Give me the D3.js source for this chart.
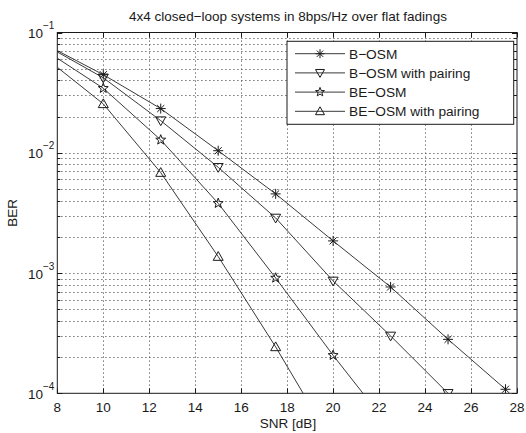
<!DOCTYPE html>
<html>
<head>
<meta charset="utf-8">
<script src="https://cdn.jsdelivr.net/npm/d3@7/dist/d3.min.js"></script>
<style>
  html, body { margin: 0; padding: 0; background: #fff; }
  svg { display: block; font-family: "Liberation Sans", Arial, Helvetica, sans-serif; }
</style>
</head>
<body>
<svg id="chart" width="526" height="433"></svg>
<script>
// ---- data ----
const snr = [7.5, 10, 12.5, 15, 17.5, 20, 22.5, 25, 27.5];
const seriesNames = ["B\u2212OSM", "B\u2212OSM with pairing", "BE\u2212OSM", "BE\u2212OSM with pairing"];
const markerTypes = ["asterisk", "triangleDown", "pentagram", "triangleUp"];
const berBOSM        = [0.0793, 0.0446, 0.0233, 0.0104, 0.00455, 0.00185, 0.000766, 0.000281, 0.000108];
const berBOSMPair    = [0.0780, 0.0420, 0.0185, 0.00757, 0.00287, 0.00086, 0.000300, 0.000100, 0.000034];
const berBEOSM       = [0.0705, 0.0344, 0.0128, 0.00380, 0.00091, 0.000207, 0.000051, null, null];
const berBEOSMPair   = [0.0612, 0.0255, 0.00684, 0.00137, 0.000243, 0.000038, null, null, null];
const xTicks = [8, 10, 12, 14, 16, 18, 20, 22, 24, 26, 28];
const yMajorExponents = [-4, -3, -2, -1];
const titleText = "4x4 closed\u2212loop systems in 8bps/Hz over flat fadings";
const xLabel = "SNR [dB]";
const yLabel = "BER";

const allSeries = [berBOSM, berBOSMPair, berBEOSM, berBEOSMPair];

// ---- layout ----
const svg = d3.select("#chart");
const L = 57.3, T = 32.5, R = 517, B = 393.3;
const x = d3.scaleLinear().domain([8, 28]).range([L, R]);
const y = d3.scaleLog().domain([1e-4, 1e-1]).range([B, T]);
const ink = "#1a1a1a";
const lineCol = "#3a3a3a";

svg.append("defs").append("clipPath").attr("id", "plotclip")
  .append("rect").attr("x", L).attr("y", T).attr("width", R - L).attr("height", B - T);

// grid
const grid = svg.append("g").attr("stroke", "#555").attr("stroke-width", 1)
  .attr("stroke-dasharray", "1.2,2.8").attr("fill", "none");
xTicks.slice(1, -1).forEach(t => {
  grid.append("line").attr("x1", Math.round(x(t)) + 0.5).attr("x2", Math.round(x(t)) + 0.5)
    .attr("y1", T).attr("y2", B);
});
const yGridVals = [];
yMajorExponents.forEach(e => {
  for (let m = 1; m <= 9; m++) {
    const v = m * Math.pow(10, e);
    if (v > 1e-4 && v < 1e-1) yGridVals.push(v);
  }
});
yGridVals.forEach(v => {
  grid.append("line").attr("x1", L).attr("x2", R)
    .attr("y1", Math.round(y(v)) + 0.5).attr("y2", Math.round(y(v)) + 0.5);
});

// frame
svg.append("rect").attr("x", L).attr("y", T).attr("width", R - L).attr("height", B - T)
  .attr("fill", "none").attr("stroke", ink).attr("stroke-width", 1);

// ticks (inward, all sides)
const tk = svg.append("g").attr("stroke", ink).attr("stroke-width", 1);
xTicks.forEach(t => {
  const xx = Math.round(x(t)) + 0.5;
  tk.append("line").attr("x1", xx).attr("x2", xx).attr("y1", B).attr("y2", B - 5);
  tk.append("line").attr("x1", xx).attr("x2", xx).attr("y1", T).attr("y2", T + 5);
});
yMajorExponents.forEach(e => {
  const yy = Math.round(y(Math.pow(10, e))) + 0.5;
  tk.append("line").attr("x1", L).attr("x2", L + 5).attr("y1", yy).attr("y2", yy);
  tk.append("line").attr("x1", R).attr("x2", R - 5).attr("y1", yy).attr("y2", yy);
});
yGridVals.forEach(v => {
  const yy = Math.round(y(v)) + 0.5;
  tk.append("line").attr("x1", L).attr("x2", L + 3).attr("y1", yy).attr("y2", yy);
  tk.append("line").attr("x1", R).attr("x2", R - 3).attr("y1", yy).attr("y2", yy);
});

// tick labels
const tl = svg.append("g").attr("fill", ink).attr("font-size", 13.5);
xTicks.forEach(t => {
  tl.append("text").attr("x", x(t)).attr("y", 411.5).attr("text-anchor", "middle").text(t);
});
yMajorExponents.forEach(e => {
  const yy = y(Math.pow(10, e));
  const txt = tl.append("text").attr("x", 28).attr("y", yy + 5.5);
  txt.append("tspan").text("10");
  txt.append("tspan").attr("dy", -9).attr("font-size", 10).text("\u2212" + Math.abs(e));
});

// title & labels
svg.append("text").attr("x", 288).attr("y", 21).attr("text-anchor", "middle")
  .attr("font-size", 13.5).attr("fill", ink).text(titleText);
svg.append("text").attr("x", 288).attr("y", 427.5).attr("text-anchor", "middle")
  .attr("font-size", 13.5).attr("fill", ink).text(xLabel);
svg.append("text").attr("transform", `translate(17,${(T + B) / 2}) rotate(-90)`)
  .attr("text-anchor", "middle").attr("font-size", 13.5).attr("fill", ink).text(yLabel);

// markers
function markerPath(type, s) {
  if (type === "asterisk") {
    const d = s * 0.707;
    return `M${-s},0L${s},0M0,${-s}L0,${s}M${-d},${-d}L${d},${d}M${-d},${d}L${d},${-d}`;
  }
  if (type === "triangleDown") {
    return `M${-s},${-s * 0.75}L${s},${-s * 0.75}L0,${s}Z`;
  }
  if (type === "triangleUp") {
    return `M${-s},${s * 0.75}L${s},${s * 0.75}L0,${-s}Z`;
  }
  if (type === "pentagram") {
    const pts = [];
    for (let i = 0; i < 10; i++) {
      const r = i % 2 === 0 ? s : s * 0.42;
      const a = -Math.PI / 2 + i * Math.PI / 5;
      pts.push([r * Math.cos(a), r * Math.sin(a)]);
    }
    return "M" + pts.map(p => p[0].toFixed(2) + "," + p[1].toFixed(2)).join("L") + "Z";
  }
}
const markerSize = { asterisk: 5, triangleDown: 5, pentagram: 5.2, triangleUp: 5 };

const plot = svg.append("g").attr("clip-path", "url(#plotclip)");
const lineGen = d3.line().defined(d => d[1] != null).x(d => x(d[0])).y(d => y(d[1]));
allSeries.forEach((vals, i) => {
  const pts = snr.map((s, j) => [s, vals[j]]);
  plot.append("path").datum(pts).attr("d", lineGen).attr("fill", "none")
    .attr("stroke", lineCol).attr("stroke-width", 1);
  pts.filter(d => d[1] != null).forEach(d => {
    plot.append("path").attr("d", markerPath(markerTypes[i], markerSize[markerTypes[i]]))
      .attr("transform", `translate(${x(d[0])},${y(d[1])})`)
      .attr("fill", "none").attr("stroke", ink).attr("stroke-width", 1);
  });
});

// legend
const lg = svg.append("g");
const lgX = 287, lgY = 41.3, lgW = 226.7, lgH = 83;
lg.append("rect").attr("x", lgX).attr("y", lgY).attr("width", lgW).attr("height", lgH)
  .attr("fill", "#fff").attr("stroke", ink).attr("stroke-width", 1);
seriesNames.forEach((name, i) => {
  const yy = 53.7 + i * 19.2;
  lg.append("line").attr("x1", 295).attr("x2", 345).attr("y1", yy).attr("y2", yy)
    .attr("stroke", lineCol).attr("stroke-width", 1);
  lg.append("path").attr("d", markerPath(markerTypes[i], markerSize[markerTypes[i]] * 0.9))
    .attr("transform", `translate(320,${yy})`)
    .attr("fill", "none").attr("stroke", ink).attr("stroke-width", 1);
  lg.append("text").attr("x", 349).attr("y", yy + 5).attr("font-size", 13.7)
    .attr("fill", ink).text(name);
});
</script>
</body>
</html>
